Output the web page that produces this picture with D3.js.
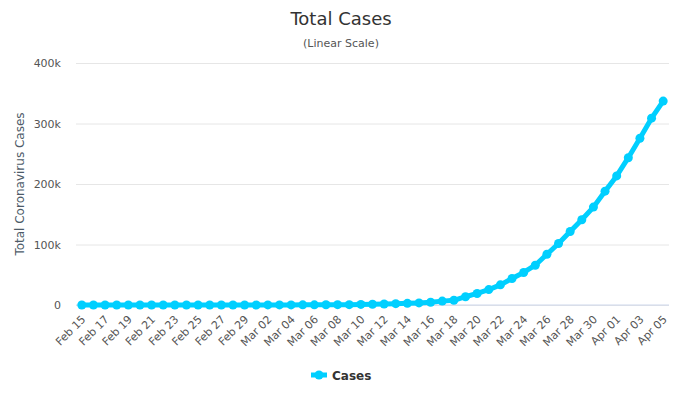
<!DOCTYPE html>
<html>
<head>
<meta charset="utf-8">
<script src="https://cdn.jsdelivr.net/npm/d3@7"></script>
<style>
  body { margin: 0; background: #fff; }
  svg { font-family: "DejaVu Sans", sans-serif; }
</style>
</head>
<body>
<script>
// days shown on the x axis
var dates = [
  "Feb 15", "Feb 16", "Feb 17", "Feb 18", "Feb 19", "Feb 20", "Feb 21", "Feb 22",
  "Feb 23", "Feb 24", "Feb 25", "Feb 26", "Feb 27", "Feb 28", "Feb 29",
  "Mar 01", "Mar 02", "Mar 03", "Mar 04", "Mar 05", "Mar 06", "Mar 07", "Mar 08",
  "Mar 09", "Mar 10", "Mar 11", "Mar 12", "Mar 13", "Mar 14", "Mar 15", "Mar 16",
  "Mar 17", "Mar 18", "Mar 19", "Mar 20", "Mar 21", "Mar 22", "Mar 23", "Mar 24",
  "Mar 25", "Mar 26", "Mar 27", "Mar 28", "Mar 29", "Mar 30", "Mar 31",
  "Apr 01", "Apr 02", "Apr 03", "Apr 04", "Apr 05"
];

// total cases per day
var cases = [
  15, 15, 15, 15, 15, 15, 35, 35,
  35, 53, 57, 60, 60, 62, 70,
  76, 101, 122, 153, 221, 278, 417, 537,
  605, 959, 1281, 1663, 2179, 2726, 3499, 4632,
  6421, 7786, 13680, 19101, 25493, 33276, 43847, 53740,
  65778, 83836, 101657, 121478, 140886, 161807, 188172,
  213372, 243453, 275586, 308850, 337072
];

var yTicks = [0, 100000, 200000, 300000, 400000];
var seriesName = "Cases";

var width = 682, height = 398;
var margin = {top: 63, right: 13, bottom: 93, left: 76};
var lineColor = "#00cfff";

var svg = d3.select("body").append("svg")
  .attr("width", width)
  .attr("height", height);

var x = d3.scalePoint()
  .domain(dates)
  .range([margin.left, width - margin.right])
  .padding(0.5);

var y = d3.scaleLinear()
  .domain([0, 400000])
  .range([height - margin.bottom, margin.top]);

// title
svg.append("text")
  .attr("x", width / 2).attr("y", 25)
  .attr("text-anchor", "middle")
  .attr("font-size", "18px")
  .attr("fill", "#333")
  .text("Total Cases");

svg.append("text")
  .attr("x", width / 2).attr("y", 47)
  .attr("text-anchor", "middle")
  .attr("font-size", "11px")
  .attr("fill", "#555")
  .text("(Linear Scale)");

// gridlines + y labels
var yAxis = svg.append("g")
  .attr("transform", "translate(" + margin.left + ",0)")
  .call(d3.axisLeft(y)
    .tickValues(yTicks)
    .tickSize(-(width - margin.left - margin.right))
    .tickPadding(15)
    .tickFormat(function(d) { return d === 0 ? "0" : (d / 1000) + "k"; }));

yAxis.select(".domain").remove();
yAxis.selectAll(".tick line").attr("stroke", "#e6e6e6");
yAxis.selectAll(".tick text")
  .attr("fill", "#555")
  .attr("font-size", "11px")
  .attr("font-family", "DejaVu Sans, sans-serif");

// y title
svg.append("text")
  .attr("transform", "translate(24," + ((margin.top + height - margin.bottom) / 2) + ") rotate(-90)")
  .attr("text-anchor", "middle")
  .attr("font-size", "12px")
  .attr("fill", "#4d5b69")
  .text("Total Coronavirus Cases");

// x axis
var xAxis = svg.append("g")
  .attr("transform", "translate(0," + (height - margin.bottom) + ")")
  .call(d3.axisBottom(x)
    .tickValues(dates.filter(function(d, i) { return i % 2 === 0; }))
    .tickSize(0)
    .tickSizeOuter(0));

xAxis.select(".domain")
  .attr("d", "M" + margin.left + ",0H" + (width - margin.right))
  .attr("stroke", "#ccd6eb");

xAxis.selectAll(".tick text")
  .attr("fill", "#555")
  .attr("font-size", "11px")
  .attr("font-family", "DejaVu Sans, sans-serif")
  .attr("text-anchor", "end")
  .attr("dy", null)
  .attr("y", 0)
  .attr("transform", "translate(4,15) rotate(-45)");

// series line
var line = d3.line()
  .x(function(d, i) { return x(dates[i]); })
  .y(function(d) { return y(d); });

svg.append("path")
  .datum(cases)
  .attr("fill", "none")
  .attr("stroke", lineColor)
  .attr("stroke-width", 5)
  .attr("stroke-linejoin", "round")
  .attr("stroke-linecap", "round")
  .attr("d", line);

svg.selectAll("circle.pt").data(cases)
  .enter()
  .append("circle")
  .attr("class", "pt")
  .attr("cx", function(d, i) { return x(dates[i]); })
  .attr("cy", function(d) { return y(d); })
  .attr("r", 4.5)
  .attr("fill", lineColor);

// legend
var legend = svg.append("g").attr("transform", "translate(311,375)");
legend.append("line")
  .attr("x1", 0).attr("x2", 16)
  .attr("stroke", lineColor)
  .attr("stroke-width", 5);
legend.append("circle")
  .attr("cx", 8).attr("r", 4.5)
  .attr("fill", lineColor);
legend.append("text")
  .attr("x", 21).attr("y", 5)
  .attr("font-size", "12px")
  .attr("font-weight", "bold")
  .attr("fill", "#333")
  .text(seriesName);
</script>
</body>
</html>
